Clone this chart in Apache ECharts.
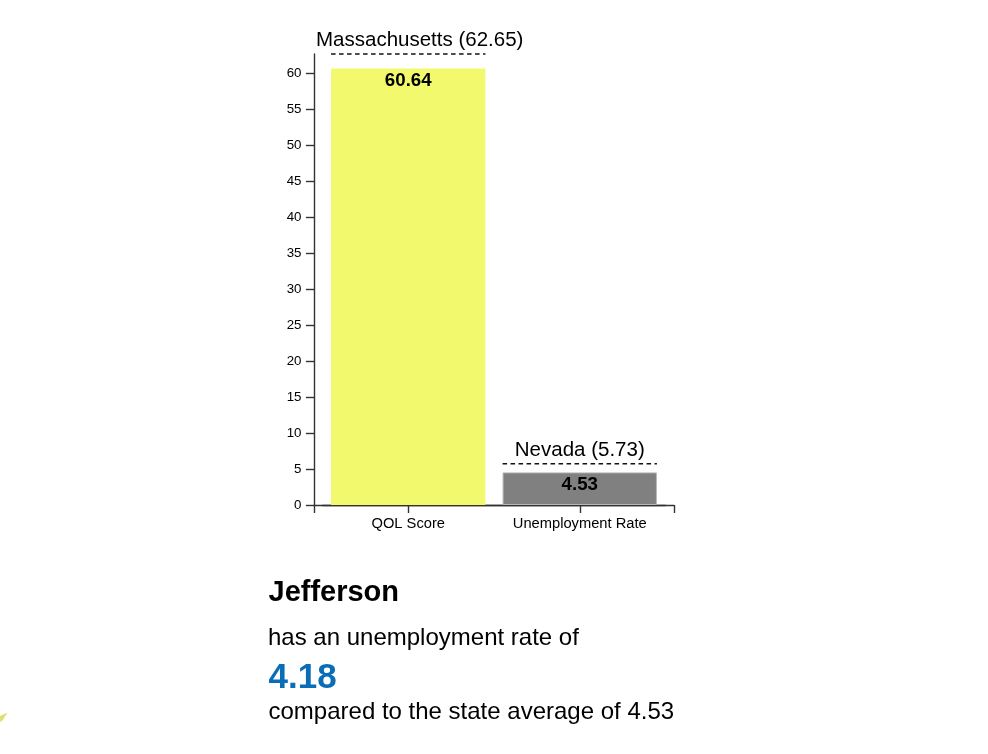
<!DOCTYPE html>
<html>
<head>
<meta charset="utf-8">
<script src="https://cdn.jsdelivr.net/npm/echarts@6/dist/echarts.min.js"></script>
<style>
html,body{margin:0;padding:0;background:#fff;}
#c{width:988px;height:754px;}
</style>
</head>
<body>
<div id="c"></div>
<script>
// ---- data ----
const categories = ['QOL Score', 'Unemployment Rate'];
const values = [60.64, 4.53];
const refNames = ['Massachusetts', 'Nevada'];
const refValues = [62.65, 5.73];
const yTickStep = 5;
const countyName = 'Jefferson';
const countyRate = 4.18;
const stateAverage = 4.53;
const barColors = ['#f2f96c', '#808080'];

// ---- layout / style ----
const FONT = '"Liberation Sans", Arial, Helvetica, sans-serif';
const AXIS_X = 314, AXIS_W = 360, TOP = 54, BASE_Y = 505;
const PLOT_H = BASE_Y - TOP;
const yMax = Math.max.apply(null, refValues);
const AXIS_COLOR = '#333';
const REF_SIZE = 20.5;

const mctx = document.createElement('canvas').getContext('2d');
function measure(txt, size, weight) {
  mctx.font = (weight || 'normal') + ' ' + size + 'px ' + FONT;
  return mctx.measureText(txt).width;
}
function midY(baseline, size) { return baseline - 0.3465 * size; }

const chart = echarts.init(document.getElementById('c'), null, {renderer: 'canvas'});

const option = {
  animation: false,
  backgroundColor: '#fff',
  grid: [
    {left: AXIS_X, top: TOP, width: AXIS_W, height: PLOT_H},
    {left: AXIS_X + 8.5, top: TOP, width: AXIS_W - 17, height: PLOT_H}
  ],
  xAxis: [
    {
      gridIndex: 0, type: 'value', min: 0, max: 1, interval: 1,
      axisLine: {show: true, lineStyle: {color: AXIS_COLOR, width: 1.4}},
      axisTick: {show: true, length: 8, lineStyle: {color: AXIS_COLOR, width: 1.4}},
      axisLabel: {show: false}, splitLine: {show: false}
    },
    {
      gridIndex: 1, type: 'category', data: categories,
      axisLine: {show: true, lineStyle: {color: AXIS_COLOR, width: 1.4}},
      axisTick: {show: true, interval: 0, alignWithLabel: true, length: 8, lineStyle: {color: AXIS_COLOR, width: 1.4}},
      axisLabel: {interval: 0, hideOverlap: false, margin: 11, fontSize: 14.7, color: '#000', fontFamily: FONT}
    }
  ],
  yAxis: [
    {
      gridIndex: 0, type: 'value', min: 0, max: yMax, interval: yTickStep,
      axisLine: {show: true, lineStyle: {color: AXIS_COLOR, width: 1.4}},
      axisTick: {show: true, length: 8, lineStyle: {color: AXIS_COLOR, width: 1.4}},
      axisLabel: {showMaxLabel: false, margin: 12.5, fontSize: 13.3, color: '#000', fontFamily: FONT},
      splitLine: {show: false}
    },
    {
      gridIndex: 1, type: 'value', min: 0, max: yMax, show: false
    }
  ],
  series: [
    {
      type: 'bar', xAxisIndex: 1, yAxisIndex: 1,
      barCategoryGap: '10%',
      data: values.map((v, i) => ({
        value: v,
        itemStyle: {color: barColors[i], borderColor: i === 1 ? '#b8b8b8' : barColors[i], borderWidth: i === 1 ? 1 : 0}
      })),
      label: {
        show: true, position: 'insideTop', distance: 3,
        fontWeight: 'bold', fontSize: 18.7, color: '#000', fontFamily: FONT,
        formatter: p => p.value.toFixed(2)
      }
    },
    {
      type: 'custom', xAxisIndex: 1, yAxisIndex: 1,
      data: refValues.map((v, i) => [i, v]),
      renderItem: function (params, api) {
        const idx = params.dataIndex;
        const c = api.coord([api.value(0), api.value(1)]);
        const bw = api.size([1, 0])[0] * 0.9;
        const x0 = c[0] - bw / 2, x1 = c[0] + bw / 2;
        const label = refNames[idx] + ' (' + refValues[idx].toFixed(2) + ')';
        const w = measure(label, REF_SIZE);
        let tx = c[0], align = 'center';
        if (c[0] - w / 2 < AXIS_X + 2) { tx = AXIS_X + 2; align = 'left'; }
        return {
          type: 'group',
          children: [
            {type: 'line', shape: {x1: x0, y1: c[1], x2: x1, y2: c[1]},
             style: {stroke: '#111', lineWidth: 1.4, lineDash: [4.5, 3.5]}},
            {type: 'text', x: tx, y: midY(c[1] - 6.5, REF_SIZE),
             style: {text: label, fontSize: REF_SIZE, fontFamily: FONT, fill: '#000',
                     align: align, verticalAlign: 'middle'}}
          ]
        };
      },
      z: 5
    }
  ],
  graphic: [
    {type: 'text', x: 268.5, y: midY(603.5, 29),
     style: {text: countyName, fontSize: 29, fontWeight: 'bold', fontFamily: FONT, fill: '#000', align: 'left', verticalAlign: 'middle'}},
    {type: 'text', x: 268, y: midY(647, 24),
     style: {text: 'has an unemployment rate of', fontSize: 24, fontFamily: FONT, fill: '#000', align: 'left', verticalAlign: 'middle'}},
    {type: 'text', x: 268.5, y: midY(690, 35),
     style: {text: countyRate.toFixed(2), fontSize: 35, fontWeight: 'bold', fontFamily: FONT, fill: '#0a6db8', align: 'left', verticalAlign: 'middle'}},
    {type: 'text', x: 268.5, y: midY(721, 24),
     style: {text: 'compared to the state average of ' + stateAverage.toFixed(2), fontSize: 24, fontFamily: FONT, fill: '#000', align: 'left', verticalAlign: 'middle'}},
    {type: 'polygon', shape: {points: [[0, 716], [7.5, 712.5], [2.5, 720.5], [0, 722]]},
     style: {fill: '#d2dc5c', opacity: 0.85}}
  ]
};
chart.setOption(option);
</script>
</body>
</html>
